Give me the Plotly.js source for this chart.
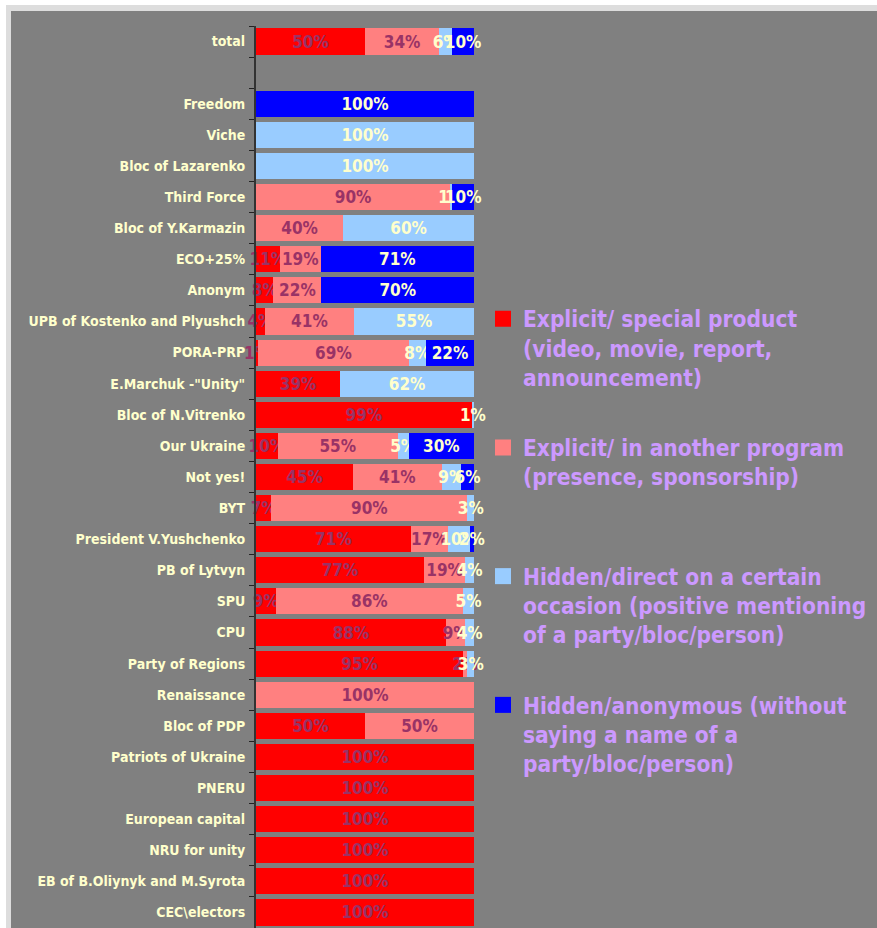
<!DOCTYPE html>
<html><head><meta charset="utf-8">
<script src="https://cdn.plot.ly/plotly-3.0.1.min.js"></script>
<style>
html,body{margin:0;padding:0;background:#ffffff;width:877px;height:928px;overflow:hidden;}
#frame{position:absolute;left:6px;top:5px;width:871px;height:923px;background:#dddddd;}
#chart{position:absolute;left:11px;top:11px;width:866px;height:917px;}
</style></head><body><div id="frame"></div><div id="chart"></div>
<script>
const categories = ['total',' ','Freedom','Viche','Bloc of Lazarenko','Third Force','Bloc of Y.Karmazin','ECO+25%','Anonym','UPB of Kostenko and Plyushch','PORA-PRP','E.Marchuk -"Unity"','Bloc of N.Vitrenko','Our Ukraine','Not yes!','BYT','President V.Yushchenko','PB of Lytvyn','SPU','CPU','Party of Regions','Renaissance','Bloc of PDP','Patriots of Ukraine','PNERU','European capital','NRU for unity','EB of B.Oliynyk and M.Syrota','CEC\\electors'];
const explicitSpecial = [50,null,0,0,0,0,0,11,8,4,1,39,99,10,45,7,71,77,9,88,95,0,50,100,100,100,100,100,100];
const explicitOther   = [34,null,0,0,0,90,40,19,22,41,69,0,0,55,41,90,17,19,86,9,2,100,50,0,0,0,0,0,0];
const hiddenDirect    = [6,null,0,100,100,1,60,0,0,55,8,62,1,5,9,3,10,4,5,4,3,0,0,0,0,0,0,0,0];
const hiddenAnon      = [10,null,100,0,0,10,0,71,70,0,22,0,0,30,6,0,2,0,0,0,0,0,0,0,0,0,0,0,0];
const seriesNames = [
  'Explicit/ special product<br>(video, movie, report,<br>announcement)',
  'Explicit/ in another program<br>(presence, sponsorship)<br> ',
  'Hidden/direct on a certain<br>occasion (positive mentioning<br>of a party/bloc/person)',
  'Hidden/anonymous (without<br>saying a name of a<br>party/bloc/person)'
];
const seriesValues = [explicitSpecial, explicitOther, hiddenDirect, hiddenAnon];
const seriesColors = ['#FF0000','#FF8080','#99CCFF','#0000FF'];
const labelColors = ['#993366','#993366','#FFFFCC','#FFFFCC'];
const FONT = 'DejaVu Sans Condensed, DejaVu Sans, sans-serif';

const barTraces = seriesValues.map((vals, i) => ({
  type: 'bar',
  orientation: 'h',
  name: seriesNames[i],
  showlegend: false,
  y: categories,
  x: vals,
  marker: {color: seriesColors[i], line: {width: 0}},
  text: vals.map(v => (v ? v + '%' : '')),
  textposition: 'inside',
  insidetextanchor: 'middle',
  textangle: 0,
  constraintext: 'none',
  cliponaxis: false,
  textfont: {family: FONT, size: 17, color: labelColors[i], weight: 'bold'},
  hoverinfo: 'skip'
}));

// legend entries (square swatches) for the four series
const legendTraces = seriesNames.map((nm, i) => ({
  type: 'scatter', mode: 'markers',
  name: nm, legendgroup: 'g' + i,
  x: [null], y: [null],
  marker: {symbol: 'square', size: 16, color: seriesColors[i], line: {width: 0}},
  hoverinfo: 'skip'
}));

const layout = {
  width: 866, height: 917,
  margin: {l: 245, r: 403, t: 15, b: 0, pad: 0},
  paper_bgcolor: '#808080',
  plot_bgcolor: '#808080',
  barmode: 'stack',
  barnorm: 'percent',
  bargap: 0.16,
  showlegend: true,
  legend: {
    xref: 'container', x: 472 / 866, xanchor: 'left',
    y: 0.699, yanchor: 'top',
    traceorder: 'grouped', tracegroupgap: 38, valign: 'top',
    bgcolor: 'rgba(0,0,0,0)', borderwidth: 0,
    itemclick: false, itemdoubleclick: false,
    font: {family: FONT, size: 22.5, color: '#CC99FF', weight: 'bold'}
  },
  xaxis: {visible: false, range: [0, 100], fixedrange: true},
  yaxis: {
    type: 'category', categoryorder: 'array', categoryarray: categories,
    range: [categories.length - 0.5, -0.5],
    showline: true, linecolor: '#333333', linewidth: 2,
    ticks: 'outside', ticklen: 5, tickwidth: 1, tickcolor: '#222222',
    tickson: 'boundaries', ticklabelstandoff: 6,
    showgrid: false, zeroline: false, fixedrange: true,
    tickfont: {family: FONT, size: 14, color: '#FFFFCC', weight: 'bold'}
  },
  hovermode: false
};

Plotly.newPlot('chart', barTraces.concat(legendTraces), layout, {displayModeBar: false, staticPlot: true});
</script></body></html>
